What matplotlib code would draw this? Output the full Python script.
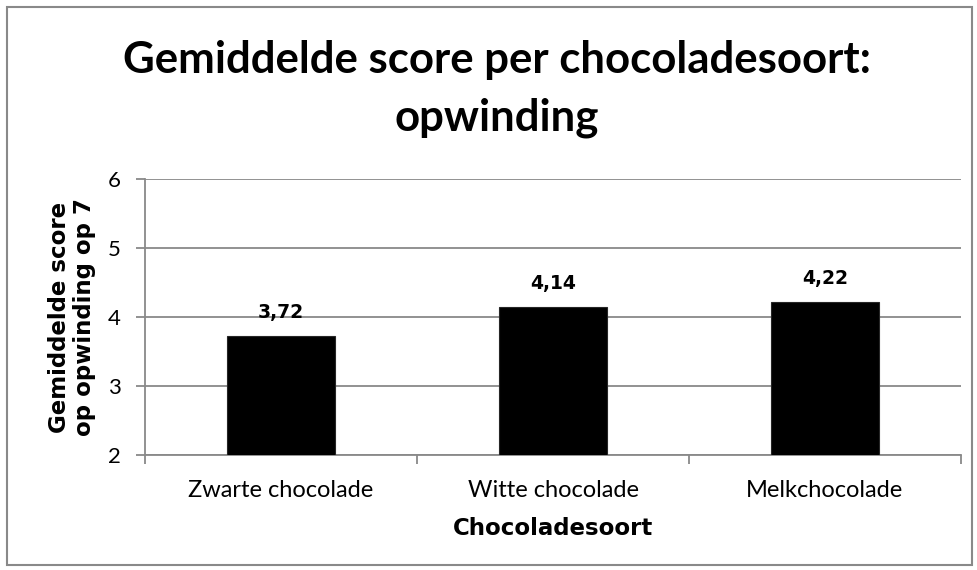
import matplotlib
matplotlib.use('Agg')
import matplotlib.pyplot as plt
from matplotlib.patches import Rectangle
from matplotlib.transforms import blended_transform_factory

categories = ['Zwarte chocolade', 'Witte chocolade', 'Melkchocolade']
scores = [3.72, 4.14, 4.22]
score_labels = ['3,72', '4,14', '4,22']
y_ticks = [2, 3, 4, 5, 6]

GRID_GREY = '#898989'
W, H = 978, 570

fig = plt.figure(figsize=(W / 100, H / 100), dpi=100)
ax = fig.add_axes([145 / W, 1 - 455 / H, 816 / W, 276 / H])

x = range(len(categories))
ax.bar(x, scores, width=0.4, color='black', edgecolor='#262626', linewidth=0.8, zorder=3)
for i, (v, lab) in enumerate(zip(scores, score_labels)):
    ax.annotate(lab, (i, v), xytext=(0, 13), textcoords='offset points',
                ha='center', va='baseline', fontsize=13.5, fontweight='bold',
                family='DejaVu Sans')

ax.set_xlim(-0.5, len(categories) - 0.5)
ax.set_ylim(2, 6)
ax.set_yticks(y_ticks)
ax.set_yticklabels([str(t) for t in y_ticks], family='Lato', fontsize=16)
ax.yaxis.grid(True, color=GRID_GREY, linewidth=1.3, zorder=0)
ax.set_axisbelow(True)

# category ticks sit on the boundaries, labels in the middle
ax.set_xticks([-0.5, 0.5, 1.5, 2.5])
ax.set_xticklabels([])
ax.tick_params(axis='x', which='major', length=6.5, color=GRID_GREY, width=1.3)
ax.tick_params(axis='y', length=6.5, color=GRID_GREY, width=1.3, pad=11)
trans = blended_transform_factory(ax.transData, fig.transFigure)
for i, cat in enumerate(categories):
    ax.text(i, 1 - 497 / H, cat, transform=trans, ha='center', va='baseline',
            family='Lato', fontsize=17)

for side in ['top', 'right']:
    ax.spines[side].set_visible(False)
for side in ['left', 'bottom']:
    ax.spines[side].set_color(GRID_GREY)
    ax.spines[side].set_linewidth(1.3)

fig.text(553 / W, 1 - 535 / H, 'Chocoladesoort', ha='center', va='baseline',
         family='DejaVu Sans', fontweight='bold', fontsize=16.5)
fig.text(72 / W, 1 - 317 / H, 'Gemiddelde score\nop opwinding op 7', rotation=90,
         ha='center', va='center', multialignment='center', family='DejaVu Sans',
         fontweight='bold', fontsize=16.5, linespacing=1.1)

fig.text(497 / W, 1 - 73 / H, 'Gemiddelde score per chocoladesoort:',
         ha='center', va='baseline', family='Lato', fontweight='bold', fontsize=31.5)
fig.text(497 / W, 1 - 130 / H, 'opwinding',
         ha='center', va='baseline', family='Lato', fontweight='bold', fontsize=31.5)

fig.patches.append(Rectangle((7 / W, 5 / H), 965 / W, 558 / H,
                             transform=fig.transFigure, fill=False,
                             edgecolor=GRID_GREY, linewidth=1.5))

fig.savefig('out.png', dpi=100)
